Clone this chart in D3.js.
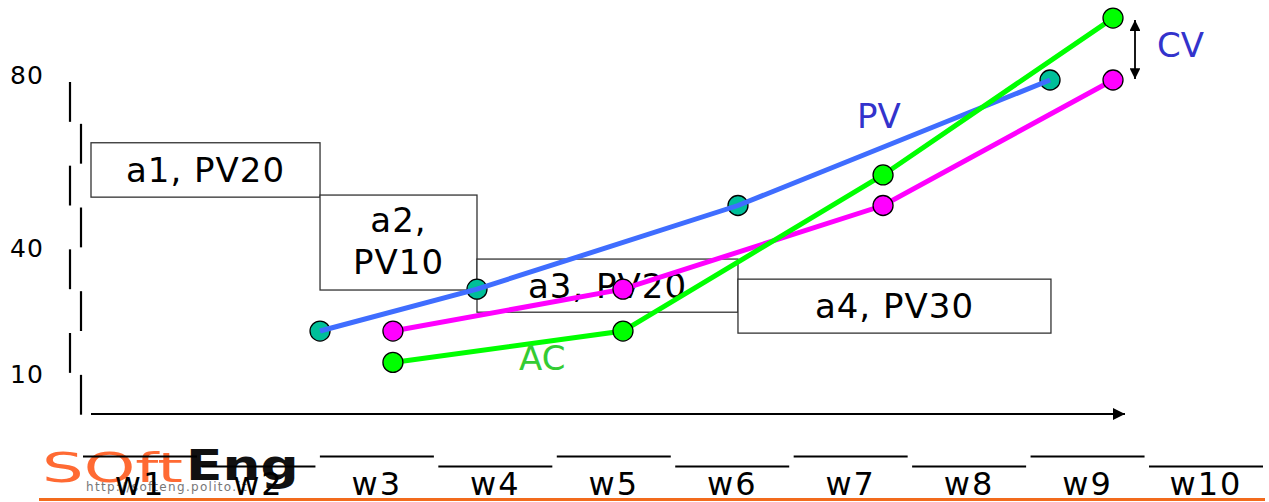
<!DOCTYPE html>
<html>
<head>
<meta charset="utf-8">
<script src="https://cdn.jsdelivr.net/npm/d3@7"></script>
<style>
  body { margin: 0; background: #fff; }
  text { font-family: "DejaVu Sans", Verdana, sans-serif; }
</style>
</head>
<body>
<svg id="chart"></svg>
<script>
// weeks along the bottom
let weeks = ["w1", "w2", "w3", "w4", "w5", "w6", "w7", "w8", "w9", "w10"];
let yTicks = [10, 40, 80];

// activities (gantt boxes) - time in % of the time axis, extents in value units
let activities = ["a1", "a2", "a3", "a4"];
let actPV = [20, 10, 20, 30];
let actStart = [0, 22.15, 37.33, 62.57];
let actEnd = [22.15, 37.33, 62.57, 92.84];
let actTop = [65, 52.5, 37.2, 32.4];
let actBottom = [52, 29.8, 24.5, 19.5];

// planned value
let pvTime = [22.15, 37.33, 62.57, 92.75];
let pvValue = [20, 30, 50, 80];
// earned value and actual cost, same dates
let evTime = [29.2, 51.45, 76.6, 98.84];
let evValue = [20, 30, 50, 80];
let acValue = [12.5, 20, 57.3, 94.8];

function createChart() {
    let w = 1269, h = 502;
    let svg = d3.select("#chart")
        .attr("width", w)
        .attr("height", h);

    let x = d3.scaleLinear().domain([0, 100]).range([91, 1125]);
    let y = d3.scaleLinear().domain([0, 80]).range([414.7, 80]);
    let xw = d3.scalePoint().domain(weeks).range([140, 1206]);

    let defs = svg.append("defs");
    defs.append("marker")
        .attr("id", "arrow")
        .attr("viewBox", "0 0 10 10")
        .attr("refX", 10).attr("refY", 5)
        .attr("markerWidth", 6).attr("markerHeight", 6)
        .attr("markerUnits", "strokeWidth")
        .attr("orient", "auto-start-reverse")
      .append("path")
        .attr("d", "M0,0L10,5L0,10Z")
        .attr("fill", "#000");

    // y axis: dashed, alternating left/right
    let nDash = 8;
    let dashLen = (y(0) - y(80)) / nDash;
    svg.append("g")
      .selectAll("line")
      .data(d3.range(nDash))
      .enter().append("line")
        .attr("x1", i => i % 2 ? 81 : 70)
        .attr("x2", i => i % 2 ? 81 : 70)
        .attr("y1", i => y(80) + 2 + i * dashLen)
        .attr("y2", i => y(80) + (i + 1) * dashLen)
        .attr("stroke", "#000")
        .attr("stroke-width", 2.2);

    svg.append("g")
      .selectAll("text")
      .data(yTicks)
      .enter().append("text")
        .attr("x", 10)
        .attr("y", d => y(d) + (d === 80 ? -5 : 1))
        .attr("dy", "0.36em")
        .attr("font-size", 25)
        .attr("letter-spacing", 1)
        .text(d => d);

    // x axis with arrow
    svg.append("line")
        .attr("x1", x(0)).attr("x2", x(100))
        .attr("y1", 414).attr("y2", 414)
        .attr("stroke", "#000")
        .attr("stroke-width", 2)
        .attr("marker-end", "url(#arrow)");

    // gantt boxes
    let box = svg.append("g")
      .selectAll("g")
      .data(activities)
      .enter().append("g");

    box.append("rect")
        .attr("x", (d, i) => x(actStart[i]))
        .attr("y", (d, i) => y(actTop[i]))
        .attr("width", (d, i) => x(actEnd[i]) - x(actStart[i]))
        .attr("height", (d, i) => y(actBottom[i]) - y(actTop[i]))
        .attr("fill", "#fff")
        .attr("stroke", "#333")
        .attr("stroke-width", 1.3);

    box.append("text")
        .attr("x", (d, i) => (x(actStart[i]) + x(actEnd[i])) / 2)
        .attr("y", (d, i) => (y(actTop[i]) + y(actBottom[i])) / 2)
        .attr("text-anchor", "middle")
        .attr("font-size", 34)
        .attr("letter-spacing", 1)
        .each(function(d, i) {
            let t = d3.select(this);
            if (d === "a2") {
                t.append("tspan").attr("x", t.attr("x")).attr("dy", "-0.3em").text(d + ",");
                t.append("tspan").attr("x", t.attr("x")).attr("dy", "1.22em").text("PV" + actPV[i]);
            } else {
                t.append("tspan").attr("dy", "0.36em").text(d + ", PV" + actPV[i]);
            }
        });

    let line = d3.line().x(d => x(d[0])).y(d => y(d[1]));
    let pv = pvTime.map((t, i) => [t, pvValue[i]]);
    let ev = evTime.map((t, i) => [t, evValue[i]]);
    let ac = evTime.map((t, i) => [t, acValue[i]]);

    // PV markers sit under its line
    svg.append("g")
      .selectAll("circle")
      .data(pv)
      .enter().append("circle")
        .attr("cx", d => x(d[0]))
        .attr("cy", d => y(d[1]))
        .attr("r", 10)
        .attr("fill", "#00BF99")
        .attr("stroke", "#000")
        .attr("stroke-width", 1.3);

    svg.append("path")
        .datum(pv)
        .attr("d", line)
        .attr("fill", "none")
        .attr("stroke", "#3F6DFF")
        .attr("stroke-width", 5);

    svg.append("path")
        .datum(ev)
        .attr("d", line)
        .attr("fill", "none")
        .attr("stroke", "#FF00FF")
        .attr("stroke-width", 5);

    svg.append("path")
        .datum(ac)
        .attr("d", line)
        .attr("fill", "none")
        .attr("stroke", "#00FF00")
        .attr("stroke-width", 5);

    [[ev, "#FF00FF"], [ac, "#00FF00"]].forEach(s => {
        svg.append("g")
          .selectAll("circle")
          .data(s[0])
          .enter().append("circle")
            .attr("cx", d => x(d[0]))
            .attr("cy", d => y(d[1]))
            .attr("r", 10)
            .attr("fill", s[1])
            .attr("stroke", "#000")
            .attr("stroke-width", 1.3);
    });

    // labels
    svg.append("text")
        .attr("x", 857).attr("y", 128)
        .attr("font-size", 34)
        .attr("fill", "#3333CC")
        .text("PV");
    svg.append("text")
        .attr("x", 519).attr("y", 370)
        .attr("font-size", 34)
        .attr("fill", "#33CC33")
        .text("AC");
    svg.append("text")
        .attr("x", 1157).attr("y", 57)
        .attr("font-size", 34)
        .attr("fill", "#3333CC")
        .text("CV");

    // CV double arrow between AC and EV at the last date
    let last = evTime.length - 1;
    svg.append("line")
        .attr("x1", 1135).attr("x2", 1135)
        .attr("y1", y(acValue[last]) + 2)
        .attr("y2", y(evValue[last]) - 1)
        .attr("stroke", "#000")
        .attr("stroke-width", 1.8)
        .attr("marker-start", "url(#arrow)")
        .attr("marker-end", "url(#arrow)");

    // logo (stretched wide like the original)
    let logo = svg.append("g");
    logo.append("text")
        .attr("transform", "translate(42,482) scale(1.6,1)")
        .attr("fill", "#FF6A33")
        .attr("font-size", 41)
        .text("SOft");
    logo.append("text")
        .attr("transform", "translate(186,480) scale(1.27,1)")
        .attr("font-size", 42)
        .attr("font-weight", "bold")
        .attr("fill", "#111")
        .text("Eng");
    logo.append("text")
        .attr("x", 86).attr("y", 491)
        .attr("font-size", 12)
        .attr("letter-spacing", 1.3)
        .attr("fill", "#777")
        .text("http://softeng.polito.it");

    // week labels with alternating bars
    svg.append("g")
      .selectAll("line")
      .data(weeks)
      .enter().append("line")
        .attr("x1", d => xw(d) - 57)
        .attr("x2", d => xw(d) + 57)
        .attr("y1", (d, i) => i % 2 ? 466.5 : 456.5)
        .attr("y2", (d, i) => i % 2 ? 466.5 : 456.5)
        .attr("stroke", "#000")
        .attr("stroke-width", 2);

    svg.append("g")
      .selectAll("text")
      .data(weeks)
      .enter().append("text")
        .attr("x", d => xw(d))
        .attr("y", 495)
        .attr("text-anchor", "middle")
        .attr("font-size", 32)
        .attr("letter-spacing", 2)
        .text(d => d);

    svg.append("line")
        .attr("x1", 39).attr("x2", 1265)
        .attr("y1", 499.5).attr("y2", 499.5)
        .attr("stroke", "#F26B1D")
        .attr("stroke-width", 3);
}

window.onload = function() {
    createChart();
};
</script>
</body>
</html>
